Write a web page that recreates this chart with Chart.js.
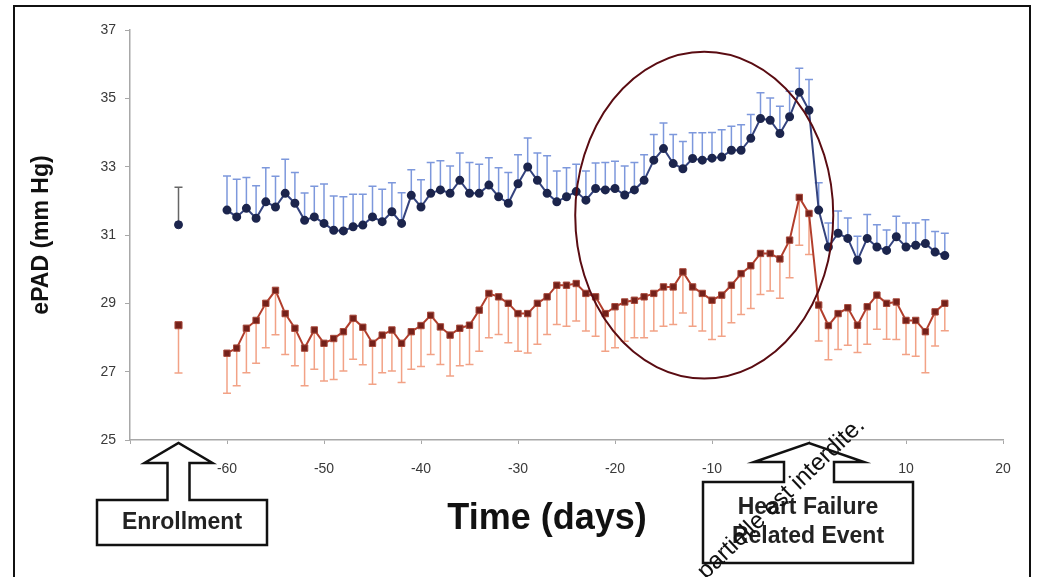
<!DOCTYPE html>
<html>
<head>
<meta charset="utf-8">
<script src="https://cdn.jsdelivr.net/npm/chart.js@4.4.1/dist/chart.umd.min.js"></script>
<style>
  html, body { margin: 0; padding: 0; background: #fff; }
  canvas { display: block; }
</style>
</head>
<body>
<canvas id="epad-chart" width="1040" height="577"></canvas>
<script>
// dias respecto al evento de insuficiencia cardiaca
const days = [
  -60, -59, -58, -57, -56, -55, -54, -53, -52, -51,
  -50, -49, -48, -47, -46, -45, -44, -43, -42, -41,
  -40, -39, -38, -37, -36, -35, -34, -33, -32, -31,
  -30, -29, -28, -27, -26, -25, -24, -23, -22, -21,
  -20, -19, -18, -17, -16, -15, -14, -13, -12, -11,
  -10, -9, -8, -7, -6, -5, -4, -3, -2, -1,
  0, 1, 2, 3, 4, 5, 6, 7, 8, 9, 10, 11, 12, 13, 14
]

// serie azul (ePAD pacientes con evento) + error superior
const blueValues = [
  31.73, 31.53, 31.78, 31.49, 31.97, 31.82, 32.22, 31.93, 31.43, 31.53,
  31.34, 31.14, 31.12, 31.24, 31.29, 31.53, 31.39, 31.68, 31.34, 32.16,
  31.82, 32.22, 32.32, 32.22, 32.60, 32.22, 32.22, 32.46, 32.12, 31.93,
  32.50, 32.99, 32.60, 32.22, 31.97, 32.12, 32.27, 32.02, 32.36, 32.32,
  32.36, 32.17, 32.32, 32.60, 33.19, 33.53, 33.09, 32.94, 33.24, 33.19,
  33.25, 33.28, 33.48, 33.48, 33.83, 34.41, 34.36, 33.97, 34.46, 35.18,
  34.65, 31.73, 30.65, 31.05, 30.90, 30.26, 30.90, 30.65, 30.55, 30.95,
  30.65, 30.70, 30.75, 30.50, 30.40
]
const blueErrors = [
  1.0, 1.1, 0.9, 0.95, 1.0, 0.9, 1.0, 0.9, 0.8, 0.9,
  1.15, 1.0, 1.0, 0.95, 0.9, 0.9, 0.95, 0.85, 0.9, 0.75,
  0.8, 0.9, 0.85, 0.8, 0.8, 0.9, 0.85, 0.8, 0.85, 0.9,
  0.85, 0.85, 0.8, 1.1, 0.9, 0.85, 0.8, 0.85, 0.75, 0.8,
  0.8, 0.85, 0.8, 0.75, 0.75, 0.75, 0.85, 0.8, 0.75, 0.8,
  0.75, 0.8, 0.7, 0.75, 0.7, 0.75, 0.65, 0.8, 0.75, 0.7,
  0.9, 0.8, 0.7, 0.65, 0.6, 0.7, 0.7, 0.65, 0.6, 0.6,
  0.7, 0.65, 0.7, 0.6, 0.65
]

// serie roja (ePAD pacientes sin evento) + error inferior
const redValues = [
  27.54, 27.69, 28.27, 28.50, 29.00, 29.38, 28.70, 28.27, 27.69, 28.22,
  27.83, 27.97, 28.17, 28.56, 28.30, 27.83, 28.07, 28.22, 27.83, 28.17,
  28.35, 28.65, 28.31, 28.07, 28.27, 28.36, 28.80, 29.29, 29.19, 29.00,
  28.70, 28.70, 29.00, 29.19, 29.53, 29.53, 29.58, 29.29, 29.19, 28.70,
  28.90, 29.04, 29.09, 29.19, 29.29, 29.48, 29.48, 29.92, 29.48, 29.29,
  29.09, 29.24, 29.53, 29.87, 30.10, 30.46, 30.46, 30.30, 30.85, 32.10,
  31.63, 28.95, 28.35, 28.70, 28.87, 28.36, 28.90, 29.24, 29.00, 29.04,
  28.50, 28.50, 28.17, 28.75, 29.00
]
const redErrors = [
  1.17, 1.1, 1.3, 1.25, 1.3, 1.3, 1.2, 1.1, 1.1, 1.15,
  1.1, 1.2, 1.15, 1.2, 1.1, 1.2, 1.1, 1.2, 1.15, 1.1,
  1.2, 1.15, 1.1, 1.2, 1.1, 1.15, 1.2, 1.3, 1.1, 1.15,
  1.1, 1.15, 1.2, 1.1, 1.15, 1.2, 1.1, 1.1, 1.15, 1.1,
  1.2, 1.15, 1.1, 1.2, 1.1, 1.15, 1.1, 1.2, 1.15, 1.1,
  1.15, 1.2, 1.1, 1.2, 1.25, 1.2, 1.1, 1.15, 1.1, 1.4,
  1.2, 1.05, 1.0, 1.05, 1.1, 0.8, 1.1, 1.0, 1.05, 1.1,
  1.0, 1.05, 1.2, 1.0, 0.8
]

// punto de inclusion (enrollment)
const enrollDay = [-65]
const enrollBlue = [31.3]
const enrollBlueErr = [1.1]
const enrollRed = [28.36]
const enrollRedErr = [1.4]

const xTicks = [-70, -60, -50, -40, -30, -20, -10, 0, 10, 20]
const yTicks = [25, 27, 29, 31, 33, 35, 37]

const toPoints = (xs, ys) => xs.map((x, i) => ({ x: x, y: ys[i] }))

//* barras de error (solo hacia un lado)
const errorBars = {
  id: "errorBars",
  beforeDatasetsDraw(chart) {
    const ctx = chart.ctx
    const sx = chart.scales.x
    const sy = chart.scales.y
    chart.data.datasets.forEach((ds) => {
      if (!ds.errors) return
      ctx.save()
      ctx.strokeStyle = ds.errorColor
      ctx.lineWidth = 1.5
      ds.data.forEach((p, j) => {
        const x = sx.getPixelForValue(p.x)
        const y0 = sy.getPixelForValue(p.y)
        const y1 = sy.getPixelForValue(p.y + ds.errorDir * ds.errors[j])
        ctx.beginPath()
        ctx.moveTo(x, y0)
        ctx.lineTo(x, y1)
        ctx.moveTo(x - 4, y1)
        ctx.lineTo(x + 4, y1)
        ctx.stroke()
      })
      ctx.restore()
    })
  }
}

// flecha con caja de texto debajo del eje
function arrowBox(ctx, tipX, tipY, headHalf, shaftHalf, headY, box, lines, lineY) {
  ctx.save()
  ctx.beginPath()
  ctx.moveTo(box.x0, box.y0)
  ctx.lineTo(tipX - shaftHalf, box.y0)
  ctx.lineTo(tipX - shaftHalf, headY)
  ctx.lineTo(tipX - headHalf, headY)
  ctx.lineTo(tipX, tipY)
  ctx.lineTo(tipX + headHalf, headY)
  ctx.lineTo(tipX + shaftHalf, headY)
  ctx.lineTo(tipX + shaftHalf, box.y0)
  ctx.lineTo(box.x1, box.y0)
  ctx.lineTo(box.x1, box.y1)
  ctx.lineTo(box.x0, box.y1)
  ctx.closePath()
  ctx.fillStyle = "#fff"
  ctx.fill()
  ctx.lineWidth = 2.5
  ctx.strokeStyle = "#111"
  ctx.stroke()
  ctx.fillStyle = "#222"
  ctx.font = "bold 23px 'Liberation Sans', Arial, sans-serif"
  ctx.textAlign = "center"
  ctx.textBaseline = "middle"
  const cx = (box.x0 + box.x1) / 2
  lines.forEach((t, i) => ctx.fillText(t, cx, lineY[i]))
  ctx.restore()
}

const annotations = {
  id: "annotations",
  afterDraw(chart) {
    const ctx = chart.ctx
    const sx = chart.scales.x
    const sy = chart.scales.y

    // marco exterior
    ctx.save()
    ctx.strokeStyle = "#111"
    ctx.lineWidth = 2
    ctx.strokeRect(14, 6, 1016, 620)
    ctx.restore()

    // ovalo alrededor del evento
    const cx = sx.getPixelForValue(-10.8)
    const cy = sy.getPixelForValue(31.58)
    const rx = sx.getPixelForValue(2.5) - sx.getPixelForValue(-10.8)
    const ry = sy.getPixelForValue(26.8) - cy
    ctx.save()
    ctx.beginPath()
    ctx.ellipse(cx, cy, rx, ry, 0, 0, Math.PI * 2)
    ctx.strokeStyle = "#5a0c12"
    ctx.lineWidth = 2
    ctx.stroke()
    ctx.restore()

    const axisY = sy.getPixelForValue(25)

    // Enrollment
    arrowBox(ctx, sx.getPixelForValue(enrollDay[0]), axisY + 3, 34, 11, axisY + 23,
      { x0: 97, y0: 500, x1: 267, y1: 545 }, ["Enrollment"], [523])

    // Heart Failure Related Event
    arrowBox(ctx, sx.getPixelForValue(0), axisY + 3, 55, 25, axisY + 22,
      { x0: 703, y0: 482, x1: 913, y1: 563 }, ["Heart Failure", "Related Event"], [508, 537])

    // titulo eje x
    ctx.save()
    ctx.fillStyle = "#111"
    ctx.font = "bold 36px 'Liberation Sans', Arial, sans-serif"
    ctx.textAlign = "center"
    ctx.textBaseline = "middle"
    ctx.fillText("Time (days)", 547, 519)
    ctx.restore()

    // texto de marca de agua
    ctx.save()
    ctx.translate(706, 580)
    ctx.rotate(-0.765)
    ctx.fillStyle = "#111"
    ctx.font = "24px 'Liberation Sans', Arial, sans-serif"
    ctx.textBaseline = "alphabetic"
    ctx.fillText("partielle est interdite.", 0, 0)
    ctx.restore()
  }
}

const ctxChart = document.querySelector("#epad-chart").getContext("2d")
const epadChart = new Chart(ctxChart, {
  type: "scatter",
  data: {
    datasets: [
      {
        label: "Blue",
        data: toPoints(days, blueValues),
        showLine: true,
        borderColor: "#34437e",
        borderWidth: 2,
        pointRadius: 3.5,
        pointBackgroundColor: "#1c254d",
        pointBorderColor: "#1c254d",
        errors: blueErrors,
        errorDir: 1,
        errorColor: "#7d98dc"
      },
      {
        label: "Blue enrollment",
        data: toPoints(enrollDay, enrollBlue),
        showLine: false,
        pointRadius: 4,
        pointBackgroundColor: "#1c254d",
        pointBorderColor: "#1c254d",
        errors: enrollBlueErr,
        errorDir: 1,
        errorColor: "#666"
      },
      {
        label: "Red",
        data: toPoints(days, redValues),
        showLine: true,
        borderColor: "#b23e2c",
        borderWidth: 2,
        pointStyle: "rect",
        pointRadius: 4.5,
        pointBackgroundColor: "#74211a",
        pointBorderColor: "#a8483a",
        pointBorderWidth: 1,
        errors: redErrors,
        errorDir: -1,
        errorColor: "#f2a286"
      },
      {
        label: "Red enrollment",
        data: toPoints(enrollDay, enrollRed),
        showLine: false,
        pointStyle: "rect",
        pointRadius: 5,
        pointBackgroundColor: "#74211a",
        pointBorderColor: "#a8483a",
        pointBorderWidth: 1,
        errors: enrollRedErr,
        errorDir: -1,
        errorColor: "#f2a286"
      }
    ]
  },
  options: {
    responsive: false,
    animation: false,
    devicePixelRatio: 1,
    layout: { padding: { top: 30, right: 37, left: 0, bottom: 0 } },
    plugins: {
      legend: { display: false },
      tooltip: { enabled: false }
    },
    scales: {
      x: {
        type: "linear",
        min: xTicks[0],
        max: xTicks[xTicks.length - 1],
        afterBuildTicks: (axis) => { axis.ticks = xTicks.map((v) => ({ value: v })) },
        afterFit: (axis) => { axis.height = 137 },
        border: { color: "#a8a8a8", width: 1.5 },
        grid: { drawOnChartArea: false, tickLength: 4, color: "#a8a8a8" },
        ticks: {
          padding: 17,
          color: "#3a3a3a",
          font: { size: 14, family: "'Liberation Sans', Arial, sans-serif" },
          callback: (v) => (v === xTicks[0] ? "" : v)
        }
      },
      y: {
        min: yTicks[0],
        max: yTicks[yTicks.length - 1],
        afterBuildTicks: (axis) => { axis.ticks = yTicks.map((v) => ({ value: v })) },
        afterFit: (axis) => { axis.width = 130 },
        border: { color: "#a8a8a8", width: 1.5 },
        grid: { drawOnChartArea: false, tickLength: 5, color: "#a8a8a8" },
        ticks: {
          padding: 9,
          color: "#3a3a3a",
          font: { size: 14, family: "'Liberation Sans', Arial, sans-serif" }
        },
        title: {
          display: true,
          text: "ePAD (mm Hg)",
          color: "#111",
          padding: { top: 28, bottom: 0 },
          font: { size: 23, weight: "bold", family: "'Liberation Sans', Arial, sans-serif" }
        }
      }
    }
  },
  plugins: [errorBars, annotations]
})
</script>
</body>
</html>
